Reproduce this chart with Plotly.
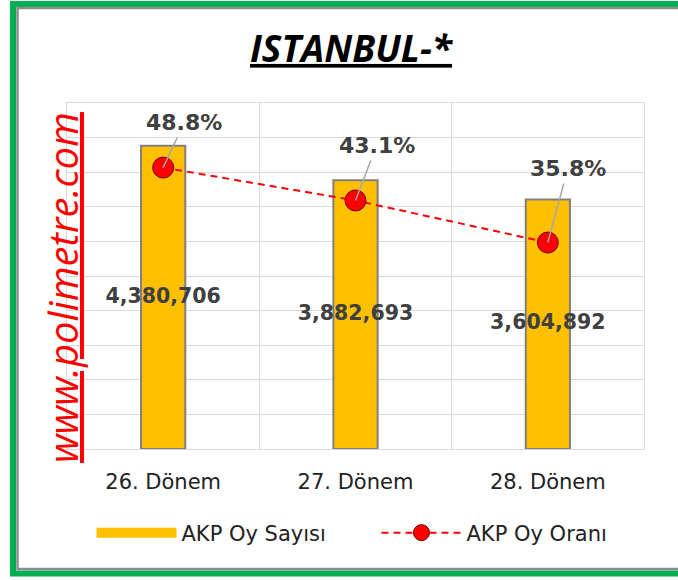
import plotly.graph_objects as go

# ---- data ----
categories = ["26. Dönem", "27. Dönem", "28. Dönem"]
vote_counts = [4380706, 3882693, 3604892]
vote_shares = [48.8, 43.1, 35.8]
bar_name = "AKP Oy Sayısı"
line_name = "AKP Oy Oranı"
title_text = "ISTANBUL-*"
watermark = "www.polimetre.com"

# ---- layout constants ----
W, H = 678, 580
ML, MR, MT, MB = 67, 34, 103, 131
PW = W - ML - MR
PH = H - MT - MB


def pxx(p):
    return (p - ML) / PW


def pxy(p):
    return (MT + PH - p) / PH


label_font = dict(family="DejaVu Sans", size=20.5, color="#404040", weight="bold")
pct_font = dict(family="DejaVu Sans", size=22, color="#404040", weight="bold")
tick_font = dict(family="DejaVu Sans", size=21, color="#222222")

fig = go.Figure()

fig.add_trace(go.Bar(
    x=categories, y=vote_counts, name=bar_name, showlegend=False,
    width=0.23, marker=dict(color="#FFC000", line=dict(color="#7F7F7F", width=2)),
    hoverinfo="skip",
))

# legend swatch for bars
fig.add_trace(go.Scatter(
    x=[None], y=[None], mode="lines", name=bar_name,
    line=dict(color="#FFC000", width=12), hoverinfo="skip",
))

# value labels in the middle of the bars
fig.add_trace(go.Scatter(
    x=categories, y=[v / 2 for v in vote_counts], mode="text",
    text=[f"{v:,}" for v in vote_counts], textposition="middle center",
    textfont=label_font, showlegend=False, hoverinfo="skip",
))

fig.add_trace(go.Scatter(
    x=categories, y=vote_shares, name=line_name, yaxis="y2",
    mode="lines+markers",
    line=dict(color="#FF0000", width=2, dash="7px,5px"),
    marker=dict(size=21, color="#FF0000", line=dict(color="#6B0000", width=1)),
    hoverinfo="skip",
))

offsets = [(21, -45), (21, -55), (20, -74)]
for c, v, (ax, ay) in zip(categories, vote_shares, offsets):
    fig.add_annotation(
        x=c, y=v, xref="x", yref="y2", text=f"{v:.1f}%",
        showarrow=True, arrowhead=0, arrowwidth=1.5, arrowcolor="#A6A6A6",
        ax=ax, ay=ay, standoff=0, borderpad=2, font=pct_font,
    )

# watermark
fig.add_annotation(
    x=pxx(62), y=pxy(288), xref="paper", yref="paper",
    text=f"<i><u>{watermark}</u></i>", textangle=-90, showarrow=False,
    font=dict(family="Open Sans", size=40, color="#FF0000"),
    xanchor="center", yanchor="middle",
)

# frame
fig.add_shape(type="rect", xref="paper", yref="paper",
              x0=pxx(13), x1=pxx(700), y0=pxy(573.5), y1=pxy(4),
              line=dict(color="#00B050", width=6), layer="above")
fig.add_shape(type="rect", xref="paper", yref="paper",
              x0=pxx(17.5), x1=pxx(700), y0=pxy(569), y1=pxy(8),
              line=dict(color="#8C8C8C", width=2.5), layer="above")

fig.update_layout(
    width=W, height=H,
    margin=dict(l=ML, r=MR, t=MT, b=MB),
    paper_bgcolor="white", plot_bgcolor="white",
    title=dict(
        text=f"<b><i><u>{title_text}</u></i></b>",
        x=351 / W, xanchor="center", y=1 - 49 / H, yanchor="middle",
        font=dict(family="Open Sans", size=37, color="#000000"),
    ),
    xaxis=dict(
        type="category", tickson="boundaries", showgrid=True,
        gridcolor="#D9D9D9", gridwidth=1, ticks="", tickfont=tick_font,
        showline=True, linecolor="#D9D9D9", mirror=True,
        ticklabelstandoff=14, range=[-0.5, 2.5],
    ),
    yaxis=dict(
        range=[0, 5000000], dtick=500000, showticklabels=False,
        showgrid=True, gridcolor="#D9D9D9", gridwidth=1,
        zeroline=True, zerolinecolor="#D9D9D9", zerolinewidth=1,
        showline=True, linecolor="#D9D9D9", mirror=True,
    ),
    yaxis2=dict(range=[0, 60], overlaying="y", side="right", visible=False),
    legend=dict(
        orientation="h", x=0.5 + 21 / PW, xanchor="center", y=pxy(533), yanchor="middle",
        font=dict(family="DejaVu Sans", size=21, color="#222222"),
        itemwidth=80, traceorder="normal", entrywidth=190,
    ),
    showlegend=True,
)

fig.write_html("out.html", config={"displayModeBar": False},
               post_script="document.body.style.margin='0px';")
